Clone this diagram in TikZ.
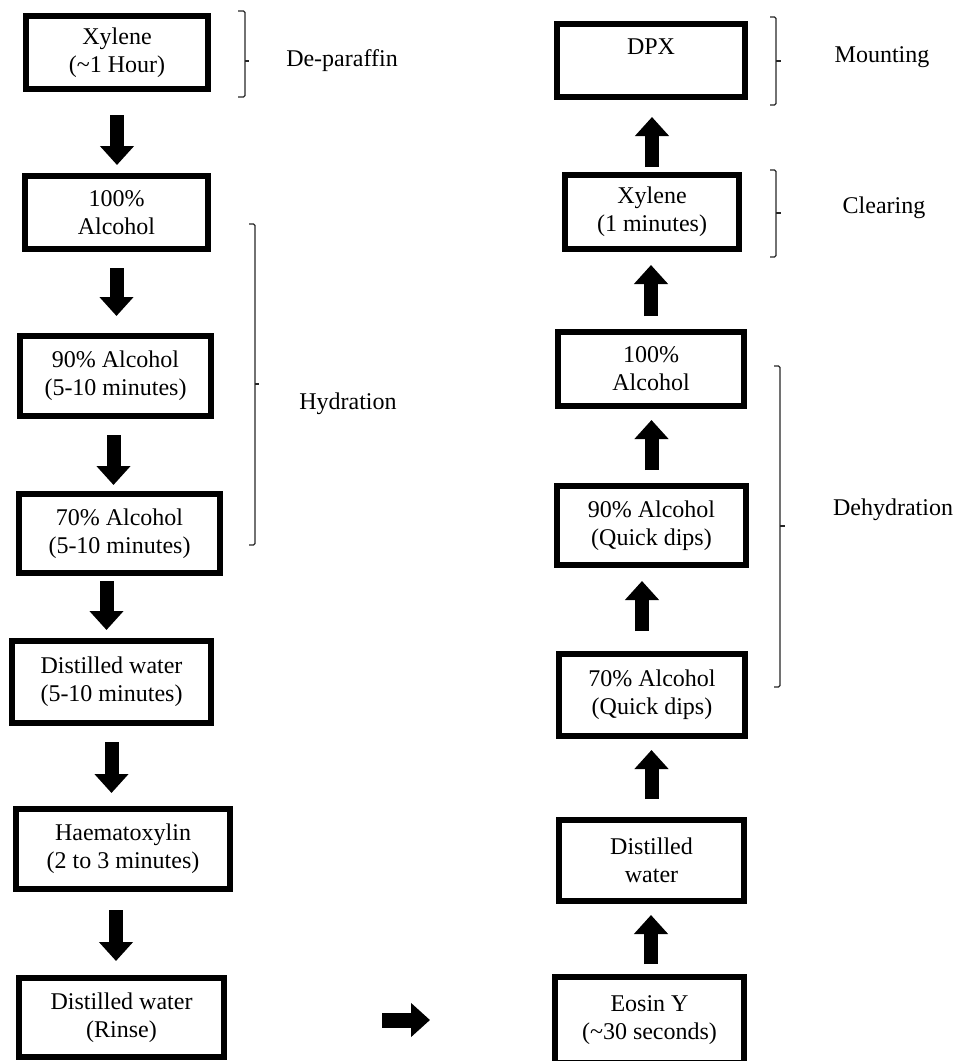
\documentclass[tikz,border=0pt]{standalone}
\usepackage{fontspec}
\setmainfont{Liberation Serif}
\usetikzlibrary{arrows.meta,calc}
\begin{document}
\begin{tikzpicture}[x=1pt,y=-1pt,
  box/.style={draw=black, line width=6pt, fill=white, inner sep=0pt, align=center,
    font=\fontsize{24}{28}\selectfont},
  lbl/.style={inner sep=0pt, font=\fontsize{24}{28}\selectfont},
  blk/.style={draw=black, line width=14pt, -{Triangle[width=33pt,length=19pt]}},
  brk/.style={draw=black!85, line width=1.2pt, rounded corners=1.5pt}
]
\useasboundingbox (0,0) rectangle (963,1061);
% left column
\node[box, minimum width=182pt, minimum height=73pt] (L1) at (117,52.5) {Xylene\\(\textasciitilde 1 Hour)};
\node[box, minimum width=183pt, minimum height=73pt] (L2) at (116.5,212.5) {100\%\\Alcohol};
\node[box, minimum width=191pt, minimum height=80pt] (L3) at (115.5,376) {90\% Alcohol\\(5-10 minutes)};
\node[box, minimum width=201pt, minimum height=79pt] (L4) at (119.5,533.5) {70\% Alcohol\\(5-10 minutes)};
\node[box, minimum width=199pt, minimum height=82pt] (L5) at (111.5,682) {Distilled water\\(5-10 minutes)};
\node[box, minimum width=214pt, minimum height=80pt] (L6) at (123,849) {Haematoxylin\\(2 to 3 minutes)};
\node[box, minimum width=205pt, minimum height=79pt] (L7) at (121.5,1017.5) {Distilled water\\(Rinse)};
% right column
\node[box, minimum width=188pt, minimum height=73pt] (R1) at (651,60.5) {DPX\\~};
\node[box, minimum width=174pt, minimum height=74pt] (R2) at (652,212) {Xylene\\(1 minutes)};
\node[box, minimum width=186pt, minimum height=74pt] (R3) at (651,369) {100\%\\Alcohol};
\node[box, minimum width=189pt, minimum height=79pt] (R4) at (651.5,525.5) {90\% Alcohol\\(Quick dips)};
\node[box, minimum width=186pt, minimum height=82pt] (R5) at (652,695) {70\% Alcohol\\(Quick dips)};
\node[box, minimum width=185pt, minimum height=81pt] (R6) at (651.5,860.5) {Distilled\\water};
\node[box, minimum width=189pt, minimum height=86pt] (R7) at (649.5,1020) {Eosin Y\\(\textasciitilde 30 seconds)};
% down arrows (left)
\draw[blk, shorten <=23pt, shorten >=8pt] (L1.south) -- (L1.south |- L2.north);
\draw[blk, shorten <=16pt, shorten >=17pt] (L2.south) -- (L2.south |- L3.north);
\draw[blk, shorten <=16pt, shorten >=6pt] ([xshift=-2pt]L3.south) -- ([xshift=-2pt]L3.south |- L4.north);
\draw[blk, shorten <=5pt, shorten >=8pt] ([xshift=-13pt]L4.south) -- ([xshift=-13pt]L4.south |- L5.north);
\draw[blk, shorten <=16pt, shorten >=13pt] (L5.south) -- (L5.south |- L6.north);
\draw[blk, shorten <=18pt, shorten >=14pt] ([xshift=-7pt]L6.south) -- ([xshift=-7pt]L6.south |- L7.north);
% horizontal arrow
\draw[blk, line width=15pt, shorten <=155pt, shorten >=122pt] ([yshift=-2.5pt]L7.east) -- ([yshift=-2.5pt]L7.east -| R7.west);
% up arrows (right)
\draw[blk, shorten <=5pt, shorten >=17pt] (R2.north) -- (R2.north |- R1.south);
\draw[blk, shorten <=13pt, shorten >=13pt] (R3.north) -- (R3.north |- R2.south);
\draw[blk, shorten <=13pt, shorten >=11pt] (R4.north) -- (R4.north |- R3.south);
\draw[blk, shorten <=20pt, shorten >=13pt] ([xshift=-10pt]R5.north) -- ([xshift=-10pt]R5.north |- R4.south);
\draw[blk, shorten <=18pt, shorten >=11pt] (R6.north) -- (R6.north |- R5.south);
\draw[blk, shorten <=10pt, shorten >=11pt] ([xshift=1.5pt]R7.north) -- ([xshift=1.5pt]R7.north |- R6.south);
% brackets
\draw[brk] (238,11) -- (245,11) -- (245,97) -- (238,97);
\draw[brk, rounded corners=0pt] (245,61) -- (249,61);
\draw[brk] (249,224) -- (255,224) -- (255,545) -- (249,545);
\draw[brk, rounded corners=0pt] (255,384) -- (259,384);
\draw[brk] (770,17) -- (776,17) -- (776,105) -- (770,105);
\draw[brk, rounded corners=0pt] (776,61) -- (781,61);
\draw[brk] (770,170) -- (776,170) -- (776,257) -- (770,257);
\draw[brk, rounded corners=0pt] (776,213) -- (781,213);
\draw[brk] (774,366) -- (780,366) -- (780,687) -- (774,687);
\draw[brk, rounded corners=0pt] (780,526) -- (785,526);
% labels
\node[lbl] (dep) at (342,61) {De-paraffin};
\node[lbl] (hyd) at (348,404) {Hydration};
\node[lbl] (mnt) at (882,57) {Mounting};
\node[lbl] (clr) at (884,208) {Clearing};
\node[lbl] (dhy) at (893,510) {Dehydration};
\end{tikzpicture}
\end{document}
